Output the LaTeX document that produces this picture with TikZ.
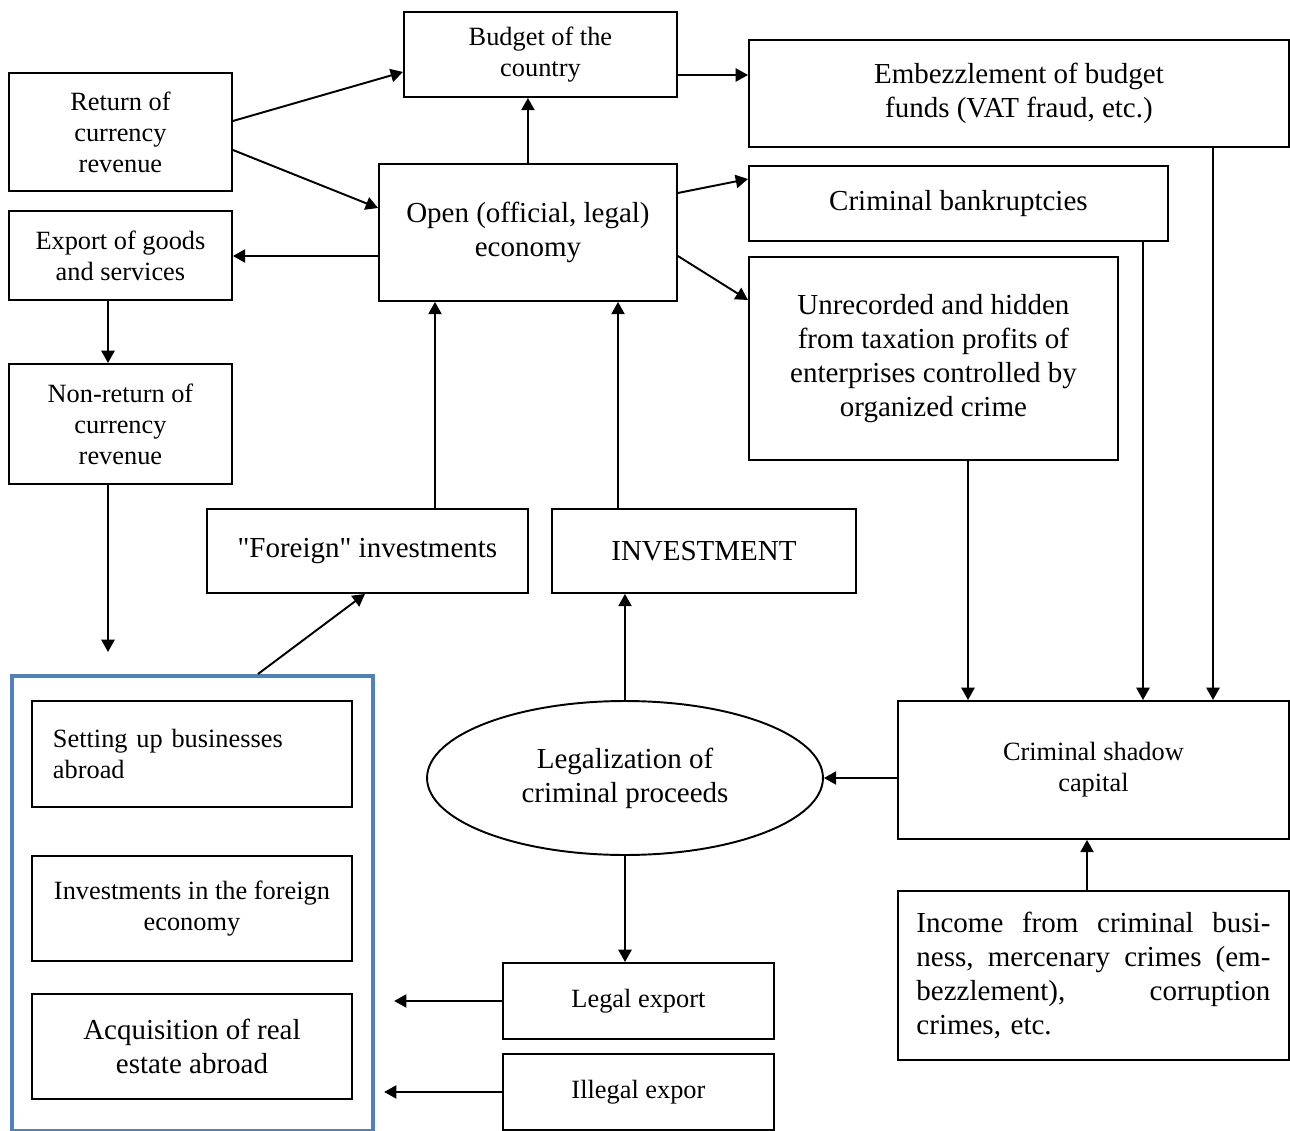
\documentclass[tikz,border=0pt]{standalone}
\usepackage{fontspec}
\setmainfont{Liberation Serif}
\usetikzlibrary{positioning,arrows.meta,calc,shapes.geometric}
\definecolor{frameblue}{RGB}{79,129,189}
\newcommand{\bigtxt}{\fontsize{16.5}{19.3}\selectfont}
\newcommand{\smalltxt}{\fontsize{15}{17.6}\selectfont}
\newcommand{\fullline}[1]{\makebox[7.08cm][l]{#1}}

\begin{document}
\begin{tikzpicture}[x=0.02cm, y=-0.02cm, line width=1.1pt,
    box/.style={draw, rectangle, anchor=north west, align=center, inner sep=2pt, font=\smalltxt},
    bigbox/.style={box, font=\bigtxt},
    arr/.style={-{Triangle[length=7pt,width=7.5pt]}}]
        \useasboundingbox (0,0) rectangle (1290,1131);

        % frame of the transfers abroad
        \node[draw=frameblue, line width=2.4pt, anchor=north west, minimum width=7.22cm, minimum height=9.1cm, inner sep=0] (abroad) at (10,674) {};

        \node[box, minimum width=4.46cm, minimum height=2.36cm] (ret) at (8,72) {Return of\\currency\\revenue};
        \node[box, minimum width=4.46cm, minimum height=1.78cm] (expo) at (8,210) {Export of goods\\and services};
        \node[box, minimum width=4.46cm, minimum height=2.4cm] (nonret) at (8,363) {Non-return of\\currency\\revenue};
        \node[box, minimum width=5.46cm, minimum height=1.7cm] (budget) at (403,11) {Budget of the\\country};
        \node[bigbox, minimum width=5.96cm, minimum height=2.74cm] (open) at (378,163) {Open (official, legal)\\economy};
        \node[bigbox, minimum width=10.8cm, minimum height=2.14cm] (embez) at (748,39) {Embezzlement of budget\\funds (VAT fraud, etc.)};
        \node[bigbox, minimum width=8.38cm, minimum height=1.5cm] (bankr) at (748,165) {Criminal bankruptcies};
        \node[bigbox, minimum width=7.38cm, minimum height=4.06cm] (unrec) at (748,256) {Unrecorded and hidden\\from taxation profits of\\enterprises controlled by\\organized crime};
        \node[bigbox, minimum width=6.42cm, minimum height=1.68cm] (foreign) at (206,508) {\textquotedbl Foreign\textquotedbl{} investments};
        \node[bigbox, minimum width=6.08cm, minimum height=1.68cm] (invest) at (551,508) {INVESTMENT};

        \node[box, align=left, text width=5.56cm, inner xsep=0.42cm, minimum height=2.12cm] (setup) at (31,700) {Setting up businesses\\abroad};
        \node[box, minimum width=6.4cm, minimum height=2.1cm] (invfor) at (31,855) {Investments in the foreign\\economy};
        \node[bigbox, minimum width=6.4cm, minimum height=2.1cm] (acq) at (31,993) {Acquisition of real\\estate abroad};

        \node[draw, ellipse, minimum width=7.92cm, minimum height=3.08cm, inner sep=0, align=center, font=\bigtxt] (legal) at (625,778) {Legalization of\\criminal proceeds};
        \node[box, minimum width=7.82cm, minimum height=2.76cm] (shadow) at (897,700) {Criminal shadow\\capital};
        \node[bigbox, align=left, text width=7.08cm, inner xsep=0.37cm, minimum height=3.38cm] (income) at (897,890) {\fullline{Income\hfill from\hfill criminal\hfill busi-}\\\fullline{ness,\hfill mercenary\hfill crimes\hfill (em-}\\\fullline{bezzlement),\hfill corruption}\\crimes, etc.};
        \node[box, minimum width=5.42cm, minimum height=1.52cm] (legexp) at (502,962) {Legal export};
        \node[box, minimum width=5.42cm, minimum height=1.52cm] (illexp) at (502,1053) {Illegal expor};

        % flows
        \draw[arr] (ret.east |- 0,121) -- (budget.west |- 0,72);
        \draw[arr] (ret.east |- 0,150) -- (open.west |- 0,208);
        \draw[arr] (budget.east |- 0,75) -- (embez.west |- 0,75);
        \draw[arr] (open.north) -- (open.north |- budget.south);
        \draw[arr] (open.east |- 0,193) -- (bankr.west |- 0,179);
        \draw[arr] (open.east |- 0,256) -- (unrec.west |- 0,300);
        \draw[arr] (open.west |- 0,256) -- (expo.east |- 0,256);
        \draw[arr] (expo.south -| 108,0) -- (nonret.north -| 108,0);
        \draw[arr, shorten >=0.44cm] (nonret.south -| 108,0) -- (abroad.north -| 108,0);
        \draw[arr] (abroad.north -| 258,0) -- (foreign.south -| 365,0);
        \draw[arr] (foreign.north -| 435,0) -- (open.south -| 435,0);
        \draw[arr] (invest.north -| 618,0) -- (open.south -| 618,0);
        \draw[arr] (legal.north) -- (invest.south -| legal.north);
        \draw[arr] (legal.south) -- (legexp.north -| legal.south);
        \draw[arr] (shadow.west |- legal.east) -- (legal.east);
        \draw[arr] (income.north -| 1087,0) -- (shadow.south -| 1087,0);
        \draw[arr] (unrec.south -| 968,0) -- (shadow.north -| 968,0);
        \draw[arr] (bankr.south -| 1143,0) -- (shadow.north -| 1143,0);
        \draw[arr] (embez.south -| 1213,0) -- (shadow.north -| 1213,0);
        \draw[arr, shorten >=0.38cm] (legexp.west) -- (abroad.east |- legexp.west);
        \draw[arr, shorten >=0.18cm] (illexp.west) -- (abroad.east |- illexp.west);
\end{tikzpicture}
\end{document}
